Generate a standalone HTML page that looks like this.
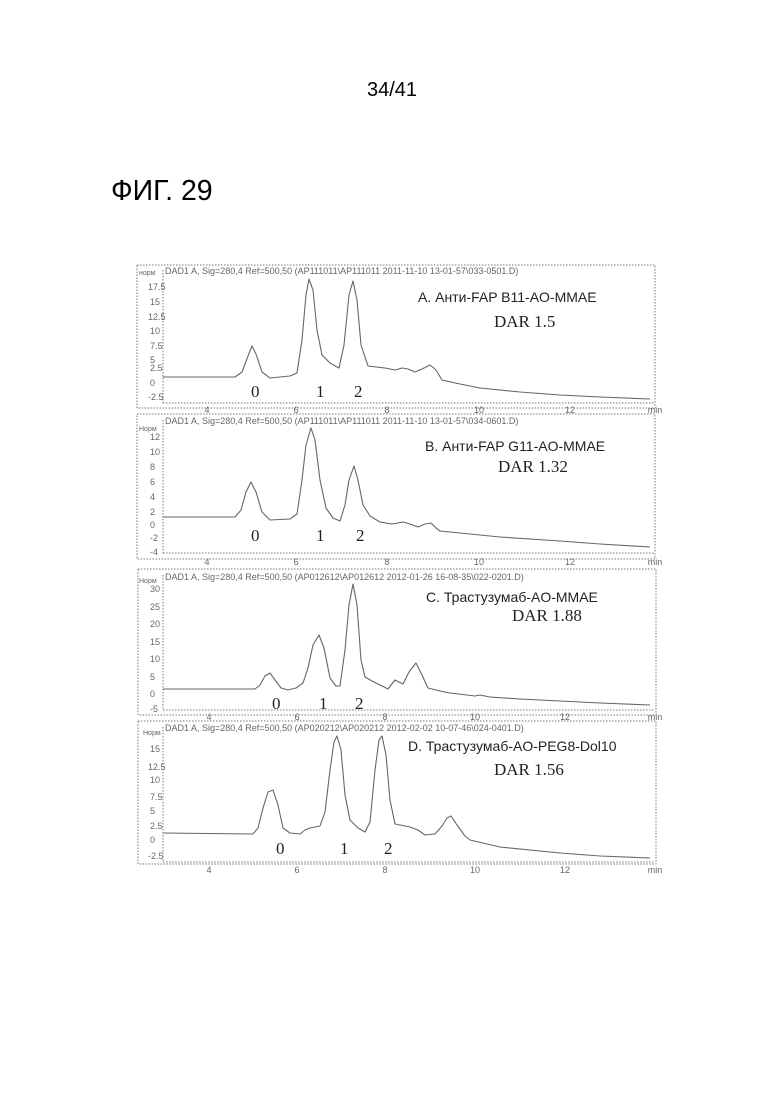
<!DOCTYPE html>
<html><head><meta charset="utf-8"><style>
html,body{margin:0;padding:0;background:#fff}
svg{display:block}
</style></head><body>
<svg width="780" height="1103" viewBox="0 0 780 1103" xmlns="http://www.w3.org/2000/svg" font-family="Liberation Sans, sans-serif">
<text x="392" y="96" font-size="20" text-anchor="middle">34/41</text>
<text x="111" y="200" font-size="28.5">ФИГ. 29</text>
<g fill="none" stroke="#777" stroke-width="1" stroke-dasharray="1.5,1.5">
<rect x="137" y="265" width="518" height="143"/>
<rect x="137" y="414" width="518" height="145"/>
<rect x="138" y="569" width="518" height="146"/>
<rect x="138" y="721" width="518" height="143"/>
<line x1="163" y1="403" x2="655" y2="403"/>
<line x1="163" y1="553" x2="655" y2="553"/>
<line x1="163" y1="710" x2="655" y2="710"/>
<line x1="163" y1="862" x2="655" y2="862"/>
<line x1="163" y1="270" x2="163" y2="403"/>
<line x1="163" y1="420" x2="163" y2="553"/>
<line x1="163" y1="575" x2="163" y2="710"/>
<line x1="163" y1="727" x2="163" y2="862"/>
</g>
<g fill="none" stroke="#666" stroke-width="1.1" stroke-linejoin="round">
<polyline points="163,377 235,377 242,372 248,356 252,346 256,354 262,372 270,378 290,376 297,373 302,340 306,295 309,279 313,290 317,330 322,355 330,363 339,368 344,345 349,295 353,281 357,300 361,345 368,366 385,368 395,370 402,368 408,369 415,372 422,369 430,365 436,370 442,380 460,384 480,388 520,392 560,395 600,397 650,399"/>
<polyline points="163,517 235,517 241,510 246,492 251,482 256,492 262,512 270,520 290,519 297,514 302,480 306,445 311,428 315,440 320,480 326,508 333,518 340,521 345,505 349,480 354,466 358,480 363,505 370,516 380,522 392,524 403,522 410,524 418,527 425,524 431,523 436,528 440,531 470,534 500,537 560,541 600,544 650,547"/>
<polyline points="163,689 255,689 260,685 265,676 270,673 275,680 281,688 288,690 296,688 303,683 308,668 313,645 319,635 324,648 330,678 336,686 340,686 345,650 349,605 353,584 357,605 361,660 365,677 372,681 380,685 388,689 395,680 399,682 403,684 409,672 416,663 421,673 428,688 440,691 450,693 475,696 480,695 490,697 520,699 560,701 600,703 650,705"/>
<polyline points="163,833 253,834 258,828 263,808 268,792 273,790 278,805 283,828 290,833 300,834 305,830 310,828 320,826 325,812 330,770 334,742 337,736 341,750 345,795 350,820 358,828 365,832 370,822 375,770 379,740 382,736 386,755 390,800 395,824 410,827 418,830 425,835 435,834 442,826 447,818 451,816 457,825 465,836 470,840 500,847 560,853 600,856 650,858"/>
</g>
<g font-size="9" fill="#666">
<text x="165" y="274">DAD1 A, Sig=280,4 Ref=500,50 (AP111011\AP111011 2011-11-10 13-01-57\033-0501.D)</text>
<text x="165" y="424">DAD1 A, Sig=280,4 Ref=500,50 (AP111011\AP111011 2011-11-10 13-01-57\034-0601.D)</text>
<text x="165" y="580">DAD1 A, Sig=280,4 Ref=500,50 (AP012612\AP012612 2012-01-26 16-08-35\022-0201.D)</text>
<text x="165" y="731">DAD1 A, Sig=280,4 Ref=500,50 (AP020212\AP020212 2012-02-02 10-07-46\024-0401.D)</text>
<text x="139" y="275" font-size="7">норм</text>
<text x="139" y="431" font-size="7">Норм</text>
<text x="139" y="583" font-size="7">Норм</text>
<text x="143" y="735" font-size="7">Норм</text>
<text x="148" y="290">17.5</text><text x="150" y="305">15</text><text x="148" y="320">12.5</text><text x="150" y="334">10</text><text x="150" y="349">7.5</text><text x="150" y="363">5</text><text x="150" y="371">2.5</text><text x="150" y="386">0</text><text x="148" y="400">-2.5</text>
<text x="150" y="440">12</text><text x="150" y="455">10</text><text x="150" y="470">8</text><text x="150" y="485">6</text><text x="150" y="500">4</text><text x="150" y="515">2</text><text x="150" y="528">0</text><text x="150" y="541">-2</text><text x="150" y="555">-4</text>
<text x="150" y="592">30</text><text x="150" y="610">25</text><text x="150" y="627">20</text><text x="150" y="645">15</text><text x="150" y="662">10</text><text x="150" y="680">5</text><text x="150" y="697">0</text><text x="150" y="712">-5</text>
<text x="150" y="752">15</text><text x="148" y="770">12.5</text><text x="150" y="783">10</text><text x="150" y="800">7.5</text><text x="150" y="814">5</text><text x="150" y="829">2.5</text><text x="150" y="843">0</text><text x="148" y="859">-2.5</text>
<g text-anchor="middle">
<text x="207" y="413">4</text><text x="296" y="413">6</text><text x="387" y="413">8</text><text x="479" y="413">10</text><text x="570" y="413">12</text><text x="655" y="413">min</text>
<text x="207" y="565">4</text><text x="296" y="565">6</text><text x="387" y="565">8</text><text x="479" y="565">10</text><text x="570" y="565">12</text><text x="655" y="565">min</text>
<text x="209" y="720">4</text><text x="297" y="720">6</text><text x="385" y="720">8</text><text x="475" y="720">10</text><text x="565" y="720">12</text><text x="655" y="720">min</text>
<text x="209" y="873">4</text><text x="297" y="873">6</text><text x="385" y="873">8</text><text x="475" y="873">10</text><text x="565" y="873">12</text><text x="655" y="873">min</text>
</g>
</g>
<g font-size="14" fill="#222">
<text x="418" y="302">A. Анти-FAP B11-AO-MMAE</text>
<text x="425" y="451">B. Анти-FAP G11-AO-MMAE</text>
<text x="426" y="602">C. Трастузумаб-AO-MMAE</text>
<text x="408" y="751">D. Трастузумаб-AO-PEG8-Dol10</text>
</g>
<g font-family="Liberation Serif, serif" font-size="17" fill="#222">
<text x="494" y="327">DAR 1.5</text>
<text x="498" y="472">DAR 1.32</text>
<text x="512" y="621">DAR 1.88</text>
<text x="494" y="775">DAR 1.56</text>
<text x="251" y="397">0</text><text x="316" y="397">1</text><text x="354" y="397">2</text>
<text x="251" y="541">0</text><text x="316" y="541">1</text><text x="356" y="541">2</text>
<text x="272" y="709">0</text><text x="319" y="709">1</text><text x="355" y="709">2</text>
<text x="276" y="854">0</text><text x="340" y="854">1</text><text x="384" y="854">2</text>
</g>
</svg>
</body></html>
